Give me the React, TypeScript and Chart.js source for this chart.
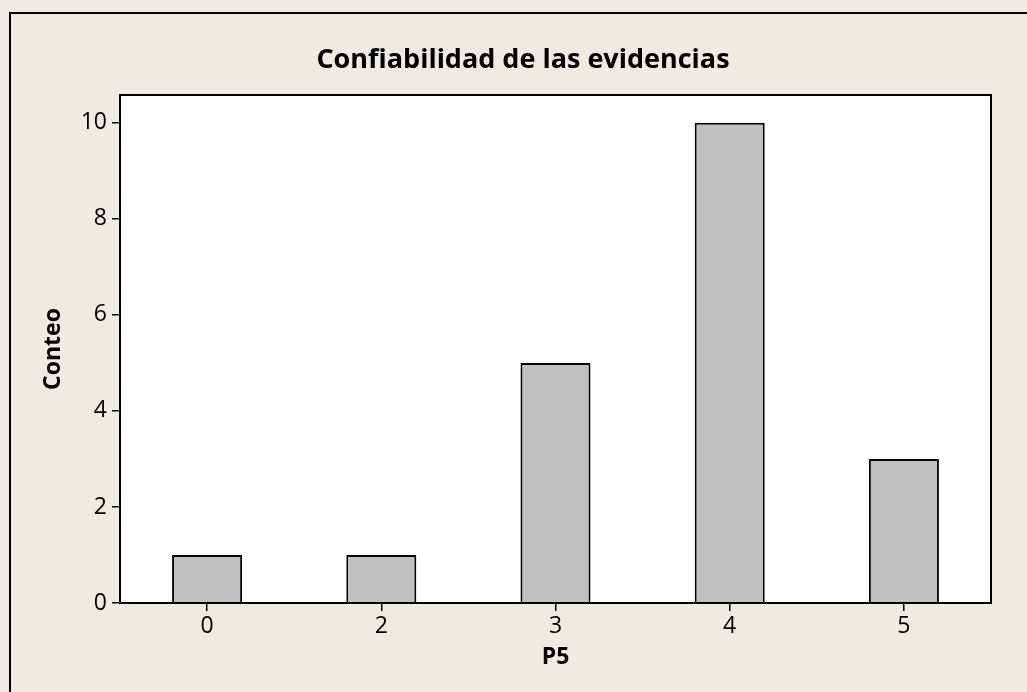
import React, { useEffect, useRef } from "react";
import { Chart, registerables } from "chart.js";

Chart.register(...registerables);

const categories: string[] = ["0", "2", "3", "4", "5"];
const counts: number[] = [1, 1, 5, 10, 3];
const yTicks: number[] = [0, 2, 4, 6, 8, 10];
const titleText = "Confiabilidad de las evidencias";
const xTitle = "P5";
const yTitle = "Conteo";

const FONT = "'Open Sans', 'DejaVu Sans', sans-serif";
const BG = "#EFEBE1";

const framePlugin = {
  id: "framePlugin",
  beforeDraw(chart: any) {
    const { ctx, width, height, chartArea } = chart;
    ctx.save();
    ctx.fillStyle = BG;
    ctx.fillRect(0, 0, width, height);
    ctx.strokeStyle = "#000";
    ctx.lineWidth = 2;
    ctx.strokeRect(10, 13, width + 20, height + 20);
    ctx.fillStyle = "#FFFFFF";
    ctx.fillRect(chartArea.left, chartArea.top, chartArea.right - chartArea.left, chartArea.bottom - chartArea.top);
    ctx.restore();
  },
  afterDraw(chart: any) {
    const { ctx, chartArea } = chart;
    ctx.save();
    ctx.strokeStyle = "#000";
    ctx.lineWidth = 2;
    ctx.strokeRect(chartArea.left, chartArea.top, chartArea.right - chartArea.left, chartArea.bottom - chartArea.top);
    ctx.fillStyle = "#000";
    ctx.font = `bold 27px ${FONT}`;
    ctx.textAlign = "center";
    ctx.textBaseline = "middle";
    ctx.fillText(titleText, 523, 60);
    ctx.restore();
  },
};

export default function App() {
  const ref = useRef<HTMLCanvasElement | null>(null);
  useEffect(() => {
    document.body.style.margin = "0";
    if (!ref.current) return;
    const chart = new Chart(ref.current, {
      type: "bar",
      data: {
        labels: categories,
        datasets: [
          {
            data: counts,
            backgroundColor: "#C0C0C0",
            borderColor: "#000000",
            borderWidth: 2,
            borderSkipped: "start",
            barPercentage: 0.402,
            categoryPercentage: 1,
          },
        ],
      },
      options: {
        animation: false,
        responsive: false,
        devicePixelRatio: 1,
        layout: { padding: { left: 0, top: 95, right: 36, bottom: 0 } },
        plugins: {
          legend: { display: false },
          title: { display: false },
          tooltip: { enabled: false },
        },
        scales: {
          x: {
            offset: true,
            grid: { display: true, offset: false, drawOnChartArea: false, drawTicks: true, tickLength: 8, color: "#000", lineWidth: 1.5 },
            border: { display: false },
            ticks: { color: "#000", font: { family: FONT, size: 23 }, padding: 2 },
            title: { display: true, text: xTitle, color: "#000", font: { family: FONT, size: 23, weight: "bold" }, padding: { top: 0, bottom: 21 } },
            afterFit(scale: any) {
              scale.height = 89;
            },
          },
          y: {
            min: 0,
            max: 10.58,
            afterBuildTicks(scale: any) {
              scale.ticks = yTicks.map((v) => ({ value: v }));
            },
            grid: { display: true, drawOnChartArea: false, drawTicks: true, tickLength: 8, color: "#000", lineWidth: 1.5 },
            border: { display: false },
            ticks: { color: "#000", font: { family: FONT, size: 23 }, padding: 5, includeBounds: false },
            title: { display: true, text: yTitle, color: "#000", font: { family: FONT, size: 23, weight: "bold" }, padding: { top: 40, bottom: 0 } },
            afterFit(scale: any) {
              scale.width = 120;
            },
          },
        },
      },
      plugins: [framePlugin],
    } as any);
    return () => chart.destroy();
  }, []);
  return (
    <div style={{ width: 1027, height: 692 }}>
      <canvas ref={ref} width={1027} height={692} style={{ display: "block", width: 1027, height: 692 }} />
    </div>
  );
}
